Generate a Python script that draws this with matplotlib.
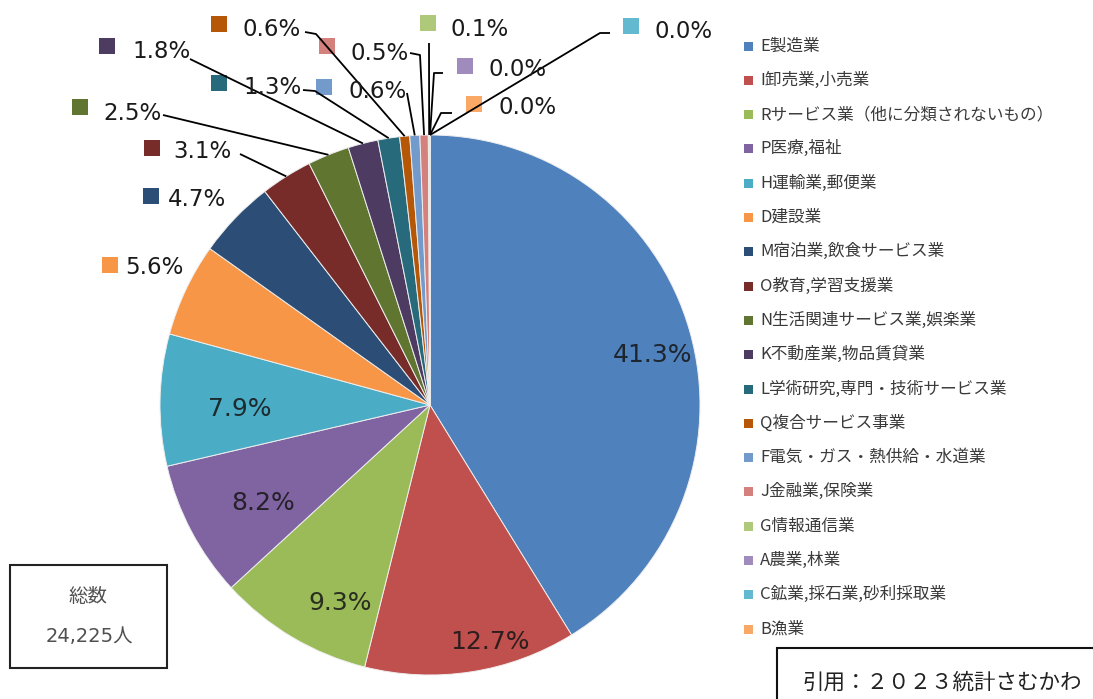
import matplotlib
matplotlib.use("Agg")
import matplotlib.pyplot as plt
import numpy as np
from matplotlib.patches import Rectangle

plt.rcParams['font.family'] = ['DejaVu Sans', 'Noto Sans CJK JP']

# -----------------------------------------------------------------------------
# Data (share of employees by industry, %)
# -----------------------------------------------------------------------------
categories = [
    "E製造業", "I卸売業,小売業", "Rサービス業（他に分類されないもの）", "P医療,福祉",
    "H運輸業,郵便業", "D建設業", "M宿泊業,飲食サービス業", "O教育,学習支援業",
    "N生活関連サービス業,娯楽業", "K不動産業,物品賃貸業", "L学術研究,専門・技術サービス業",
    "Q複合サービス事業", "F電気・ガス・熱供給・水道業", "J金融業,保険業", "G情報通信業",
    "A農業,林業", "C鉱業,採石業,砂利採取業", "B漁業",
]
shares = [41.3, 12.7, 9.3, 8.2, 7.9, 5.6, 4.7, 3.1, 2.5, 1.8, 1.3, 0.6, 0.6, 0.5, 0.1, 0.0, 0.0, 0.0]
colors = [
    "#4F81BD", "#C0504D", "#9BBB59", "#8064A2", "#4BACC6", "#F79646",
    "#2C4D75", "#772C2A", "#5F7530", "#4D3B62", "#276A7C", "#B65708",
    "#729ACA", "#D4807C", "#AFC97A", "#9F8CBD", "#63B9D0", "#F9A866",
]
total_text = "24,225人"
source_text = "引用：２０２３統計さむかわ"

# -----------------------------------------------------------------------------
# Layout (pixel coordinates, y measured from the top)
# -----------------------------------------------------------------------------
W, H = 1093, 699
CX, CY, R = 430, 405, 270

# inner labels: index -> text centre
inner_pos = {0: (652, 355), 1: (490, 642), 2: (340, 603), 3: (263, 503), 4: (240, 409)}

# outer labels: index -> (square centre, text left/centre-y, leader polyline start points)
outer_pos = {
    5:  ((110, 265), (125, 267), None),
    6:  ((151, 196), (168, 200), None),
    7:  ((152, 148), (173, 152), [(240, 154)]),
    8:  ((80, 107),  (103, 113), [(163, 115)]),
    9:  ((107, 46),  (132, 52),  [(190, 59)]),
    10: ((219, 83),  (243, 88),  [(303, 90), (315, 91)]),
    11: ((219, 24),  (243, 30),  [(305, 32), (316, 34)]),
    12: ((324, 87),  (348, 92),  [(407, 93)]),
    13: ((327, 46),  (350, 53),  [(410, 53), (420, 55)]),
    14: ((428, 23),  (450, 30),  [(429, 43)]),
    15: ((465, 66),  (488, 70),  [(443, 73), (434, 73)]),
    16: ((631, 26),  (655, 31),  [(610, 33), (600, 33)]),
    17: ((474, 104), (498, 108), [(452, 113), (441, 113)]),
}


def px(x, y):
    return x, H - y


fig = plt.figure(figsize=(W / 100, H / 100), dpi=100)
ax = fig.add_axes([0, 0, 1, 1])

wedges, _ = ax.pie(shares, colors=colors, startangle=90, counterclock=False,
                   center=px(CX, CY), radius=R,
                   wedgeprops=dict(edgecolor="#eeeeee", linewidth=0.7))

ax.set_xlim(0, W)
ax.set_ylim(0, H)
ax.set_aspect("equal")
ax.axis("off")

# inner percentage labels
for i, (x, y) in inner_pos.items():
    ax.text(*px(x, y), f"{shares[i]:.1f}%", ha="center", va="center",
            fontsize=18, color="#151515", alpha=0.85)

# outer labels with square keys and leader lines
for i, (sq, tx, lead) in outer_pos.items():
    sx, sy = px(*sq)
    ax.add_patch(Rectangle((sx - 8, sy - 8), 16, 16, facecolor=colors[i], edgecolor="none"))
    ax.text(*px(*tx), f"{shares[i]:.1f}%", ha="left", va="center",
            fontsize=16.5, color="#1a1a1a")
    if lead:
        w = wedges[i]
        mid = np.deg2rad(0.5 * (w.theta1 + w.theta2))
        ex = w.center[0] + R * np.cos(mid)
        ey = w.center[1] + R * np.sin(mid)
        xs = [px(*p)[0] for p in lead] + [ex]
        ys = [px(*p)[1] for p in lead] + [ey]
        ax.plot(xs, ys, color="black", linewidth=1.3, solid_capstyle="butt")

# legend (drawn by hand to match the row spacing)
for k, (name, c) in enumerate(zip(categories, colors)):
    y = 46 + k * 34.3
    lx, ly = px(748, y)
    ax.add_patch(Rectangle((lx - 4.5, ly - 4.5), 9, 9, facecolor=c, edgecolor="none"))
    ax.text(*px(760, y), name, ha="left", va="center", fontsize=12,
            color="#3a3a3a", family=["Noto Sans CJK JP", "DejaVu Sans"])

# total box
bx0, by0 = px(10, 668)
ax.add_patch(Rectangle((bx0, by0), 157, 103, facecolor="white", edgecolor="#222222", linewidth=1.5))
ax.text(*px(88, 596), "総数", ha="center", va="center", fontsize=14,
        color="#505050", family=["Noto Sans CJK JP", "DejaVu Sans"])
ax.text(*px(89, 637), total_text, ha="center", va="center", fontsize=14,
        color="#505050", family=["DejaVu Sans", "Noto Sans CJK JP"])

# source box
sx0, sy0 = px(777, 712)
ax.add_patch(Rectangle((sx0, sy0), 340, 64, facecolor="white", edgecolor="#111111",
                       linewidth=1.5, clip_on=False))
ax.text(*px(802, 683), source_text, ha="left", va="center", fontsize=15.5,
        color="#222222", family=["Noto Sans CJK JP", "DejaVu Sans"])

fig.savefig("out.png", dpi=100)
